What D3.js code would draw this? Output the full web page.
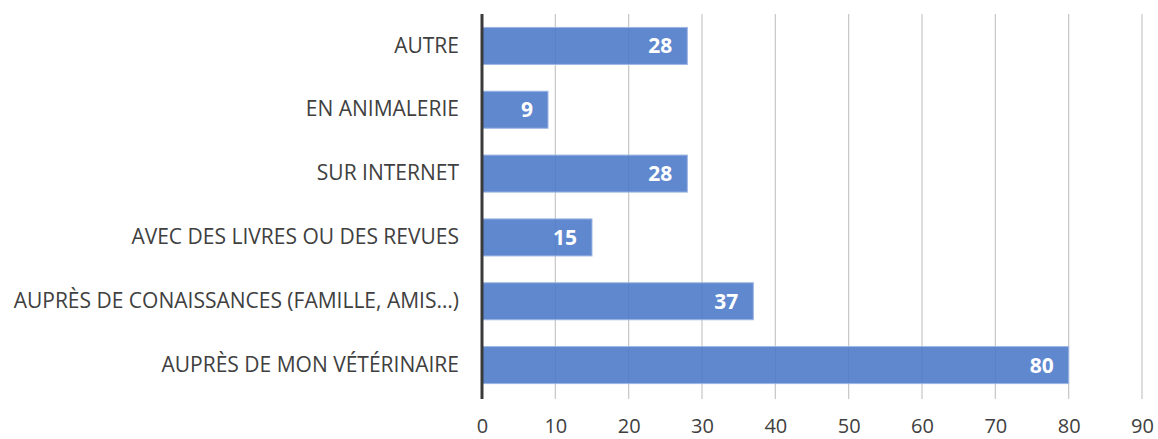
<!DOCTYPE html>
<html>
<head>
<meta charset="utf-8">
<script src="https://cdn.jsdelivr.net/npm/d3@7"></script>
<style>
  html, body { margin: 0; padding: 0; background: #fff; }
  svg { display: block; }
</style>
</head>
<body>
<svg id="chart" width="1158" height="439"></svg>
<script>
// Where owners get information — count of responses per source
const categories = [
  "AUTRE",
  "EN ANIMALERIE",
  "SUR INTERNET",
  "AVEC DES LIVRES OU DES REVUES",
  "AUPRÈS DE CONAISSANCES (FAMILLE, AMIS…)",
  "AUPRÈS DE MON VÉTÉRINAIRE"
];
const values = [28, 9, 28, 15, 37, 80];
const xTicks = [0, 10, 20, 30, 40, 50, 60, 70, 80, 90];

(function () {
  const svg = d3.select("#chart");
  const font = "'Open Sans', 'Noto Sans', sans-serif";

  const plotLeft = 482, plotRight = 1142, plotTop = 14, plotBottom = 397;

  const x = d3.scaleLinear().domain([0, 90]).range([plotLeft, plotRight]);
  const y = d3.scaleBand().domain(categories).range([plotTop, plotBottom])
    .paddingInner(0.42).paddingOuter(0.21);

  // vertical gridlines
  svg.append("g")
    .selectAll("line")
    .data(xTicks.slice(1))
    .join("line")
    .attr("x1", d => x(d)).attr("x2", d => x(d))
    .attr("y1", plotTop).attr("y2", plotBottom + 2)
    .attr("stroke", "#c6c6c6")
    .attr("stroke-width", 1.2);

  // bars
  svg.append("g")
    .selectAll("rect")
    .data(categories)
    .join("rect")
    .attr("x", x(0))
    .attr("y", d => y(d))
    .attr("width", (d, i) => x(values[i]) - x(0))
    .attr("height", y.bandwidth())
    .attr("fill", "#4a78c8")
    .attr("fill-opacity", 0.88)
    .attr("stroke", "#9db6e3")
    .attr("stroke-width", 1);

  // value labels inside bar ends
  svg.append("g")
    .selectAll("text")
    .data(categories)
    .join("text")
    .attr("x", (d, i) => x(values[i]) - 15)
    .attr("y", d => y(d) + y.bandwidth() / 2)
    .attr("dy", "0.36em")
    .attr("text-anchor", "end")
    .attr("font-family", font)
    .attr("font-weight", "bold")
    .attr("font-size", 21)
    .attr("fill", "#ffffff")
    .text((d, i) => values[i]);

  // category axis
  const yAxis = d3.axisLeft(y).tickSize(0).tickPadding(23);
  const gy = svg.append("g").attr("transform", `translate(${plotLeft},0)`).call(yAxis);
  gy.select(".domain").remove();
  gy.selectAll("text")
    .attr("font-family", font)
    .attr("font-size", 21)
    .attr("fill", "#404040");

  // value axis
  const xAxis = d3.axisBottom(x).tickValues(xTicks).tickSize(0).tickPadding(0);
  const gx = svg.append("g").attr("transform", `translate(0,${plotBottom + 22})`).call(xAxis);
  gx.select(".domain").remove();
  gx.selectAll("text")
    .attr("font-family", font)
    .attr("font-size", 20)
    .attr("fill", "#404040");

  // baseline
  svg.append("line")
    .attr("x1", x(0)).attr("x2", x(0))
    .attr("y1", plotTop).attr("y2", plotBottom + 2)
    .attr("stroke", "#3a3a3a")
    .attr("stroke-width", 3);
})();
</script>
</body>
</html>
